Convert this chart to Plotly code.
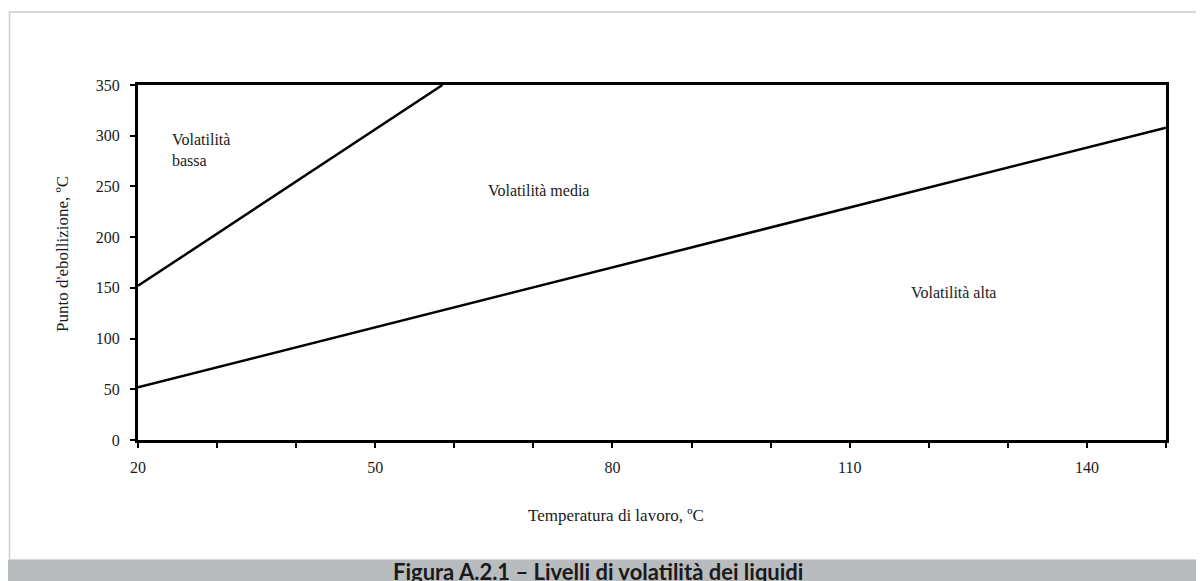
import plotly.graph_objects as go

# ---- data ----
temp_low_line = [20, 150]          # Temperatura di lavoro, °C
boil_low_line = [52, 308]          # boundary alta / media
temp_high_line = [20, 58.5]
boil_high_line = [152, 350]        # boundary media / bassa

x_tick_vals = [20, 30, 40, 50, 60, 70, 80, 90, 100, 110, 120, 130, 140, 150]
x_tick_text = ["20", "", "", "50", "", "", "80", "", "", "110", "", "", "140", ""]
y_tick_vals = [0, 50, 100, 150, 200, 250, 300, 350]

region_labels = ["Volatilità<br>bassa", "Volatilità media", "Volatilità alta"]
region_x = [24.0, 64.0, 117.5]
region_y = [286, 246, 145]

# page body adds an 8px margin; compensate so window pixels match
OFF = 8
WIN_W, WIN_H = 1204, 581
W, H = WIN_W - OFF, WIN_H - OFF
L, R, T, B = 138, 1166, 85, 440   # plot area in window pixels
pw, ph = R - L, B - T

def px(x):
    return (x - L) / pw

def py(y):
    return (B - y) / ph

serif = "Liberation Serif, Times New Roman, serif"
ink = "#1a1a1a"

fig = go.Figure()
fig.add_trace(go.Scatter(x=temp_low_line, y=boil_low_line, mode="lines",
                         line=dict(color="black", width=2.5), showlegend=False,
                         hoverinfo="skip"))
fig.add_trace(go.Scatter(x=temp_high_line, y=boil_high_line, mode="lines",
                         line=dict(color="black", width=2.5), showlegend=False,
                         hoverinfo="skip"))

for t, xv, yv in zip(region_labels, region_x, region_y):
    fig.add_annotation(x=xv, y=yv, text=t, showarrow=False, xanchor="left",
                       yanchor="middle", align="left",
                       font=dict(family=serif, size=16, color=ink))

# outer frame and caption bar
fig.add_shape(type="rect", xref="paper", yref="paper",
              x0=px(9.5), x1=px(1215), y0=py(560), y1=py(12),
              line=dict(color="#cccccc", width=1.5), fillcolor="rgba(0,0,0,0)",
              layer="below")
fig.add_shape(type="rect", xref="paper", yref="paper",
              x0=px(5), x1=px(1215), y0=py(595), y1=py(560),
              line=dict(width=0), fillcolor="#b9bcbf", layer="below")
fig.add_annotation(xref="paper", yref="paper", x=px(598), y=py(571),
                   text="<b>Figura A.2.1 – Livelli di volatilità dei liquidi</b>",
                   showarrow=False, xanchor="center", yanchor="middle",
                   font=dict(family="Lato, Open Sans, sans-serif", size=22, color=ink))

# axis titles
fig.add_annotation(xref="paper", yref="paper", x=px(616), y=py(515),
                   text="Temperatura di lavoro, ºC", showarrow=False,
                   xanchor="center", yanchor="middle",
                   font=dict(family=serif, size=17, color=ink))
fig.add_annotation(xref="paper", yref="paper", x=px(62), y=py(254),
                   text="Punto d'ebollizione, ºC", showarrow=False, textangle=-90,
                   xanchor="center", yanchor="middle",
                   font=dict(family=serif, size=17, color=ink))

fig.update_layout(
    width=W, height=H,
    margin=dict(l=L - OFF, r=WIN_W - R, t=T - OFF, b=WIN_H - B),
    paper_bgcolor="white", plot_bgcolor="white",
    xaxis=dict(range=[20, 150], tickvals=x_tick_vals, ticktext=x_tick_text,
               showgrid=False, zeroline=False, showline=True, linecolor="black",
               linewidth=3, mirror=True, ticks="outside", ticklen=5, tickwidth=2,
               tickcolor="black", ticklabelstandoff=6,
               tickfont=dict(family=serif, size=16, color=ink)),
    yaxis=dict(range=[0, 350], tickvals=y_tick_vals,
               showgrid=False, zeroline=False, showline=True, linecolor="black",
               linewidth=3, mirror=True, ticks="outside", ticklen=5, tickwidth=2,
               tickcolor="black", ticklabelstandoff=7,
               tickfont=dict(family=serif, size=16, color=ink)),
)

fig.write_html("out.html")
